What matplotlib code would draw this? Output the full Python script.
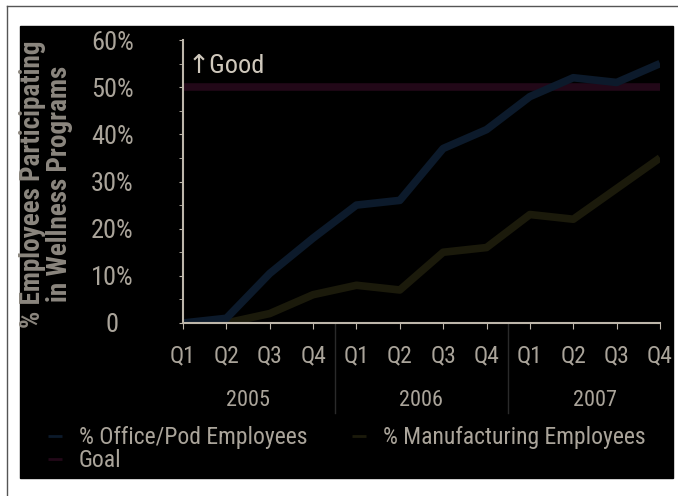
import matplotlib
matplotlib.use("Agg")
import matplotlib.pyplot as plt
from matplotlib.patches import Rectangle
from matplotlib.lines import Line2D

plt.rcParams['font.family'] = ['Roboto Condensed', 'Liberation Sans Narrow', 'Roboto', 'DejaVu Sans']

# data
quarters = ['Q1', 'Q2', 'Q3', 'Q4'] * 3
years = ['2005', '2006', '2007']
office = [0, 1, 10.5, 18, 25, 26, 37, 41, 48, 52, 51, 55]
manufacturing = [0, 0, 2, 6, 8, 7, 15, 16, 23, 22, 28.5, 35]
goal = [50] * 12

W, H = 678, 496
fig = plt.figure(figsize=(W / 100, H / 100), dpi=100, facecolor='white')

# frame and black panel
fig.add_artist(Line2D([7 / W, 1], [1 - 6 / H, 1 - 6 / H], color='#555555', lw=1))
fig.add_artist(Line2D([7 / W, 7 / W], [0, 1 - 6 / H], color='#555555', lw=1))
fig.add_artist(Rectangle((20 / W, 1 - 478 / H), 653 / W, 452 / H,
                         transform=fig.transFigure, color='black', zorder=0))
# cut-off caption at the top
fig.text(0.02, 1 + 8 / H, 'Figure 4: Employee Participation in Wellness Programs',
         fontsize=16, fontweight='bold', style='italic', color='#222222',
         va='baseline', ha='left', family=['Liberation Sans', 'DejaVu Sans'])

ax = fig.add_axes([183 / W, 1 - 323 / H, (660 - 183) / W, (323 - 40) / H])
ax.set_facecolor('none')
x = list(range(12))
l_goal, = ax.plot(x, goal, color='#220818', lw=5.5, solid_capstyle='butt', label='Goal')
l_man, = ax.plot(x, manufacturing, color='#1b1a0b', lw=5.5, solid_capstyle='butt',
                 label='% Manufacturing Employees')
l_off, = ax.plot(x, office, color='#0c1a2b', lw=5.5, solid_capstyle='butt',
                 label='% Office/Pod Employees')

ax.set_xlim(0, 11)
ax.set_ylim(0, 60)
for s in ['top', 'right']:
    ax.spines[s].set_visible(False)
for s in ['left', 'bottom']:
    ax.spines[s].set_color('#bdb6aa')
    ax.spines[s].set_linewidth(1.5)

axis_txt = '#aaa49a'
ax.set_yticks(range(0, 61, 10))
ax.set_yticklabels(['0', '10%', '20%', '30%', '40%', '50%', '60%'])
ax.set_yticks(range(5, 60, 10), minor=True)
ax.tick_params(axis='y', which='both', direction='out', length=3, color='#bdb6aa',
               labelcolor=axis_txt, labelsize=19, pad=48)
for t in ax.get_yticklabels():
    t.set_ha('center')

ax.set_xticks(x)
ax.set_xticklabels(quarters)
ax.tick_params(axis='x', direction='out', length=4, color='#bdb6aa',
               labelcolor=axis_txt, labelsize=17, pad=11)

# year labels and separators
for i, yr in enumerate(years):
    ax.text(4 * i + 1.5, -16.5, yr, ha='center', va='center', fontsize=16,
            color=axis_txt, clip_on=False)
for sep in [3.5, 7.5]:
    ax.plot([sep, sep], [0, -19], color='#2a2a2a', lw=1, clip_on=False)

ax.text(0.1, 54.5, '\u2191Good', fontsize=19, color='#cfc8bc', va='center', ha='left')

fig.text(46 / W, 1 - 184 / H, '% Employees Participating\nin Wellness Programs',
         rotation=90, ha='center', va='center', fontsize=19.5, fontweight='bold',
         color='#8c877f', linespacing=1.0)

leg = fig.legend(handles=[l_off, l_goal, l_man], ncol=2, frameon=False,
                 loc='upper left', bbox_to_anchor=(48 / W, 1 - 426 / H),
                 fontsize=17, handlelength=0.6, handletextpad=0.7,
                 columnspacing=1.9, labelspacing=0.0, borderpad=0, borderaxespad=0)
for t in leg.get_texts():
    t.set_color(axis_txt)
for h in leg.legend_handles:
    h.set_linewidth(2)

fig.savefig('out.png', dpi=100, facecolor='white')
